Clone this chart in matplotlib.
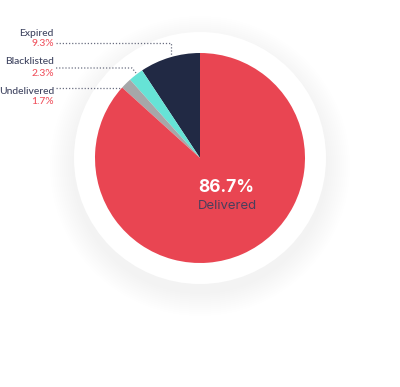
import matplotlib.pyplot as plt
from matplotlib.patches import Circle

# slice data, counterclockwise from 12 o'clock
labels = ["Expired", "Blacklisted", "Undelivered", "Delivered"]
shares = [9.3, 2.3, 1.7, 86.7]
colors = ["#212944", "#66E3D6", "#A6A7A9", "#E94552"]

plt.rcParams["font.family"] = ["Inter", "DejaVu Sans"]

W, H = 400, 387
fig = plt.figure(figsize=(W / 100, H / 100), dpi=100)
ax = fig.add_axes([0, 0, 1, 1])

cx, cy = 200, H - 158
r_pie = 105
r_ring = 126

# soft shadow behind white disc
for k in range(12):
    ax.add_patch(Circle((cx, cy - 8), r_ring + 24 - 2 * k, color="#000000",
                        alpha=0.0045, lw=0, zorder=0))
ax.add_patch(Circle((cx, cy), r_ring, color="white", lw=0, zorder=1))

wedges, _ = ax.pie(shares, colors=colors, startangle=90, counterclock=True,
                   radius=r_pie, center=(cx, cy),
                   wedgeprops=dict(linewidth=0))
for w in wedges:
    w.set_zorder(2)

ax.set_xlim(0, W)
ax.set_ylim(0, H)
ax.set_aspect("equal")
ax.axis("off")

# centre label
ax.text(226, H - 187, f"{shares[3]}%", color="white", fontsize=12.5,
        fontweight="bold", ha="center", va="center", zorder=3)
ax.text(227, H - 206, labels[3], color="#4A3F5C", fontsize=9.5,
        ha="center", va="center", zorder=3)

# side labels with dotted leaders
text_y = [33, 62, 91]
line_y = [43, 68, 88]
leader_ends = [[(171, 43), (171, 56)], [(132, 68), (136, 73)], [(120, 88)]]
for name, val, ty, ly, pts in zip(labels[:3], shares[:3], text_y, line_y, leader_ends):
    ax.text(54, H - ty, name, color="#3F4460", fontsize=7.4, ha="right",
            va="center", family=["Lato", "DejaVu Sans"], fontweight="medium")
    ax.text(54, H - ty - 11, f"{val}%", color="#F0525E", fontsize=7.4,
            ha="right", va="center", family=["Lato", "DejaVu Sans"],
            fontweight="medium")
    xs = [56] + [p[0] for p in pts]
    ys = [H - ly] + [H - p[1] for p in pts]
    ax.plot(xs, ys, color="#6A6E80", lw=0.9, ls=(0, (1, 1.5)), zorder=3)

fig.savefig("out.png", dpi=100, facecolor="white")
